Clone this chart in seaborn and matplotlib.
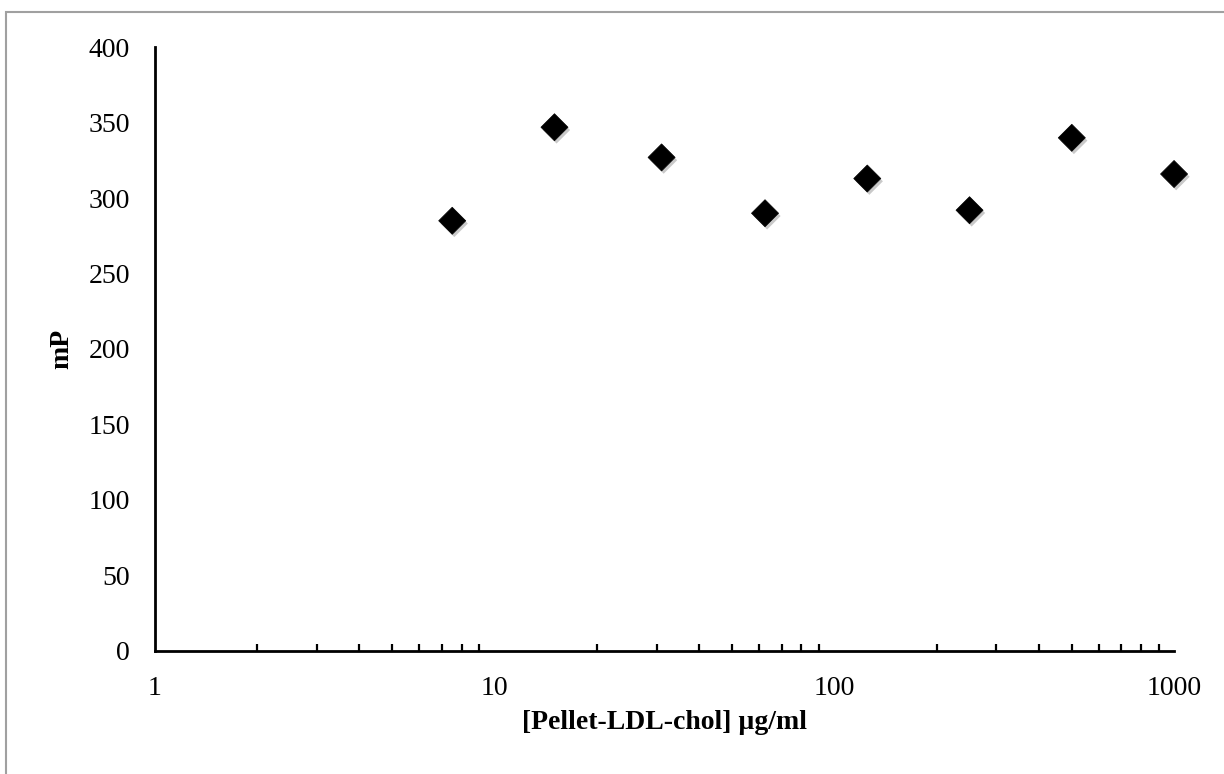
import matplotlib
matplotlib.use("Agg")
import matplotlib.pyplot as plt
import matplotlib.patheffects as pe
from matplotlib.patches import Rectangle
from matplotlib.ticker import LogLocator, NullFormatter, FixedLocator, FixedFormatter
import seaborn as sns
import pandas as pd

# Concentration series (µg/ml) and measured polarization (mP)
concentration = [7.5, 15, 31, 62.5, 125, 250, 500, 1000]
mp_values = [285, 347, 327, 290, 313, 292, 340, 316]

x_ticks = [1, 10, 100, 1000]
x_tick_labels = ["1", "10", "100", "1000"]
y_ticks = [0, 50, 100, 150, 200, 250, 300, 350, 400]

df = pd.DataFrame({"conc": concentration, "mP": mp_values})

sns.set_theme(style="white")
plt.rcParams["font.family"] = ["Liberation Serif", "DejaVu Serif"]

fig = plt.figure(figsize=(12.24, 7.74), dpi=100)
ax = fig.add_axes([0.1266, 0.1593, 0.9592 - 0.1266, 0.9389 - 0.1593])

sns.scatterplot(data=df, x="conc", y="mP", marker="D", s=190, color="black",
                edgecolor="black", linewidth=0.5, ax=ax, zorder=3)
for coll in ax.collections:
    coll.set_clip_on(False)
    coll.set_path_effects([
        pe.SimplePatchShadow(offset=(1.5, -2), shadow_rgbFace="#888888", alpha=0.45),
        pe.Normal(),
    ])

ax.set_xscale("log")
ax.set_xlim(1, 1000)
ax.set_ylim(0, 400)

ax.xaxis.set_major_locator(FixedLocator(x_ticks))
ax.xaxis.set_major_formatter(FixedFormatter(x_tick_labels))
ax.xaxis.set_minor_locator(LogLocator(base=10, subs=range(2, 10)))
ax.xaxis.set_minor_formatter(NullFormatter())
ax.set_yticks(y_ticks)

for side in ["top", "right"]:
    ax.spines[side].set_visible(False)
for side in ["left", "bottom"]:
    ax.spines[side].set_color("black")
    ax.spines[side].set_linewidth(2)

ax.tick_params(axis="both", which="major", direction="in", length=8, width=2,
               color="black", labelsize=20, labelcolor="black")
ax.tick_params(axis="x", which="minor", direction="in", length=5, width=1.6,
               color="black", bottom=True)
ax.tick_params(axis="y", which="major", pad=18)
ax.tick_params(axis="x", which="major", pad=18)

ax.set_xlabel("[Pellet-LDL-chol] µg/ml", fontsize=20, fontweight="bold",
              color="black", labelpad=7)
ax.set_ylabel("mP", fontsize=20, fontweight="bold", color="black", labelpad=10)
ax.grid(False)

# Outer chart frame
fig.patches.append(Rectangle((6 / 1224, -0.05), 1.0, 1 - 12 / 774 + 0.05,
                             transform=fig.transFigure, fill=False,
                             edgecolor="#a0a0a0", linewidth=1.5))

fig.savefig("out.png", dpi=100, facecolor="white")
